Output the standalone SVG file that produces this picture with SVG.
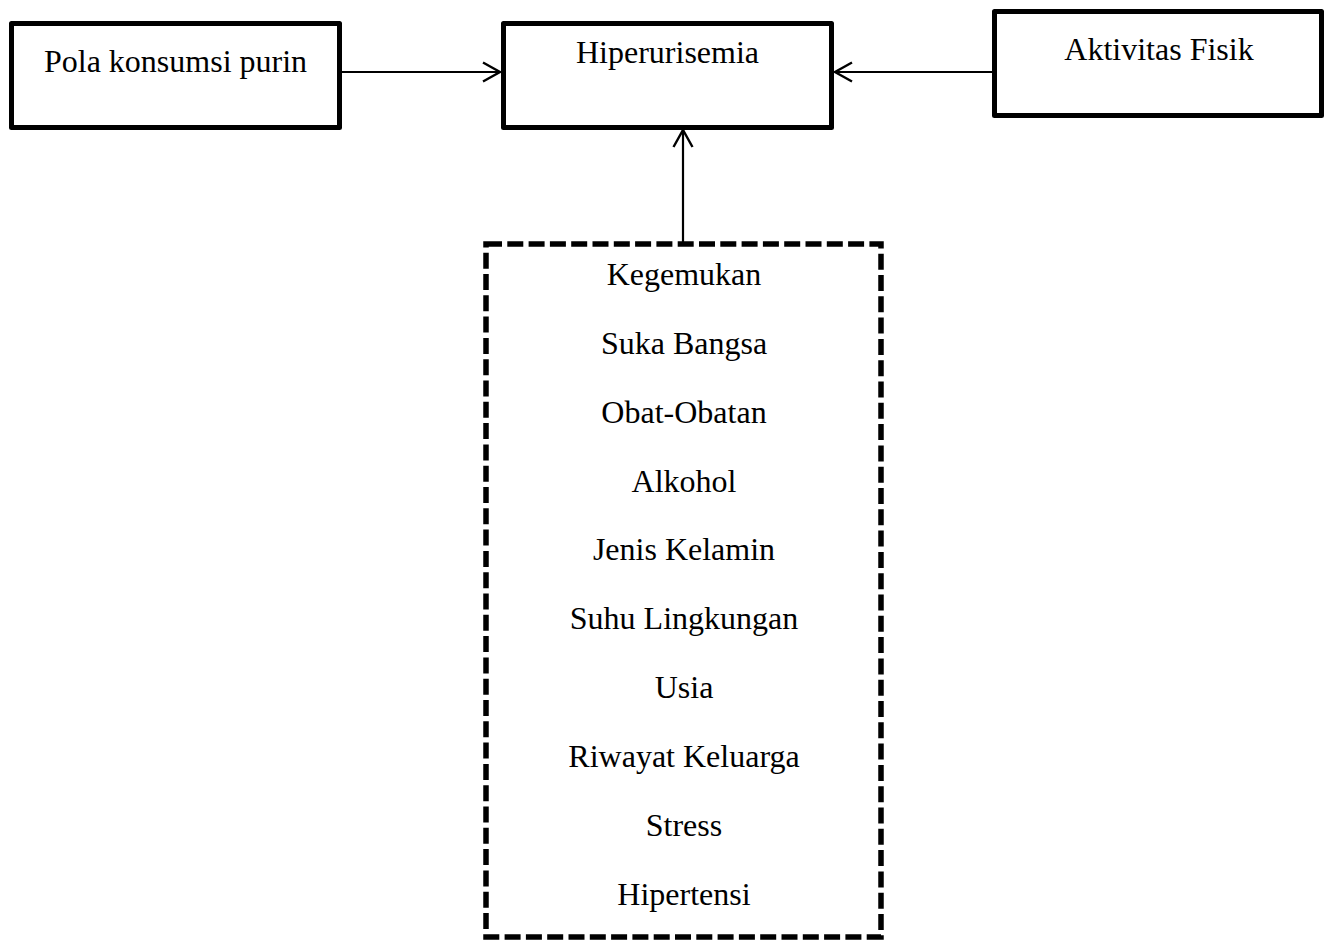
<svg xmlns="http://www.w3.org/2000/svg" width="1332" height="943" viewBox="0 0 1332 943">
<style>
.box{fill:#fff;stroke:#000;stroke-width:5;stroke-linejoin:round}
.dash{fill:none;stroke:#000;stroke-width:5.5;stroke-dasharray:16 5.3}
.t{font-family:"Liberation Serif","Times New Roman",serif;font-size:32px;fill:#000;text-anchor:middle}
.c{fill:none;stroke:#000;stroke-width:2.2}
</style>
<defs>
<marker id="ah" markerUnits="userSpaceOnUse" markerWidth="24" markerHeight="24" viewBox="-20 -12 24 24" refX="0" refY="0" orient="auto">
<polyline points="-17,-9.5 0,0 -17,9.5" fill="none" stroke="#000" stroke-width="2.4"/>
</marker>
</defs>
<g id="connectors">
<line class="c" x1="341" y1="72" x2="500" y2="72" marker-end="url(#ah)"/>
<line class="c" x1="992" y1="72" x2="835" y2="72" marker-end="url(#ah)"/>
<line class="c" x1="683" y1="242" x2="683" y2="130" marker-end="url(#ah)"/>
</g>
<g id="node-pola">
<rect class="box" x="11.5" y="23.5" width="328" height="104"/>
<text class="t" x="175.5" y="72">Pola konsumsi purin</text>
</g>
<g id="node-hiperurisemia">
<rect class="box" x="503.5" y="23.5" width="328" height="104"/>
<text class="t" x="667.5" y="63">Hiperurisemia</text>
</g>
<g id="node-aktivitas">
<rect class="box" x="994.5" y="11.5" width="327" height="104"/>
<text class="t" x="1159" y="60">Aktivitas Fisik</text>
</g>
<g id="node-faktor">
<rect class="dash" x="486" y="244" width="395" height="693"/>
<text class="t" x="684" y="285">Kegemukan</text>
<text class="t" x="684" y="354">Suka Bangsa</text>
<text class="t" x="684" y="423">Obat-Obatan</text>
<text class="t" x="684" y="492">Alkohol</text>
<text class="t" x="684" y="560">Jenis Kelamin</text>
<text class="t" x="684" y="629">Suhu Lingkungan</text>
<text class="t" x="684" y="698">Usia</text>
<text class="t" x="684" y="767">Riwayat Keluarga</text>
<text class="t" x="684" y="836">Stress</text>
<text class="t" x="684" y="905">Hipertensi</text>
</g>
</svg>
